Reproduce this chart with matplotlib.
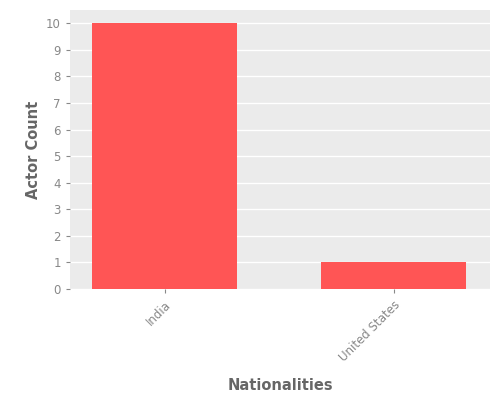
import matplotlib
matplotlib.use('Agg')
import matplotlib.pyplot as plt

nationalities = ['India', 'United States']
actor_counts = [10, 1]

fig = plt.figure(figsize=(5, 4), dpi=100)
ax = fig.add_axes([0.14, 0.2775, 0.84, 0.6975])
ax.set_facecolor('#EBEBEB')
ax.grid(True, axis='y', color='white', linewidth=1)
ax.set_axisbelow(True)
for s in ax.spines.values():
    s.set_visible(False)

x = range(len(nationalities))
ax.bar(x, actor_counts, width=0.63, color='#FF5555')
ax.set_xlim(-0.413, 1.421)
ax.set_ylim(0, 10.5)
ax.set_yticks(range(0, 11))
ax.set_xticks(list(x))
ax.set_xticklabels(nationalities, rotation=45, ha='right', rotation_mode='anchor')
ax.tick_params(colors='#888888', labelsize=8.5, length=3)
ax.set_ylabel('Actor Count', fontsize=10.5, color='#666666', fontweight='bold')
fig.text(0.56, 0.035, 'Nationalities', fontsize=10.5, color='#666666',
         fontweight='bold', ha='center', va='center')

fig.savefig('out.png')
